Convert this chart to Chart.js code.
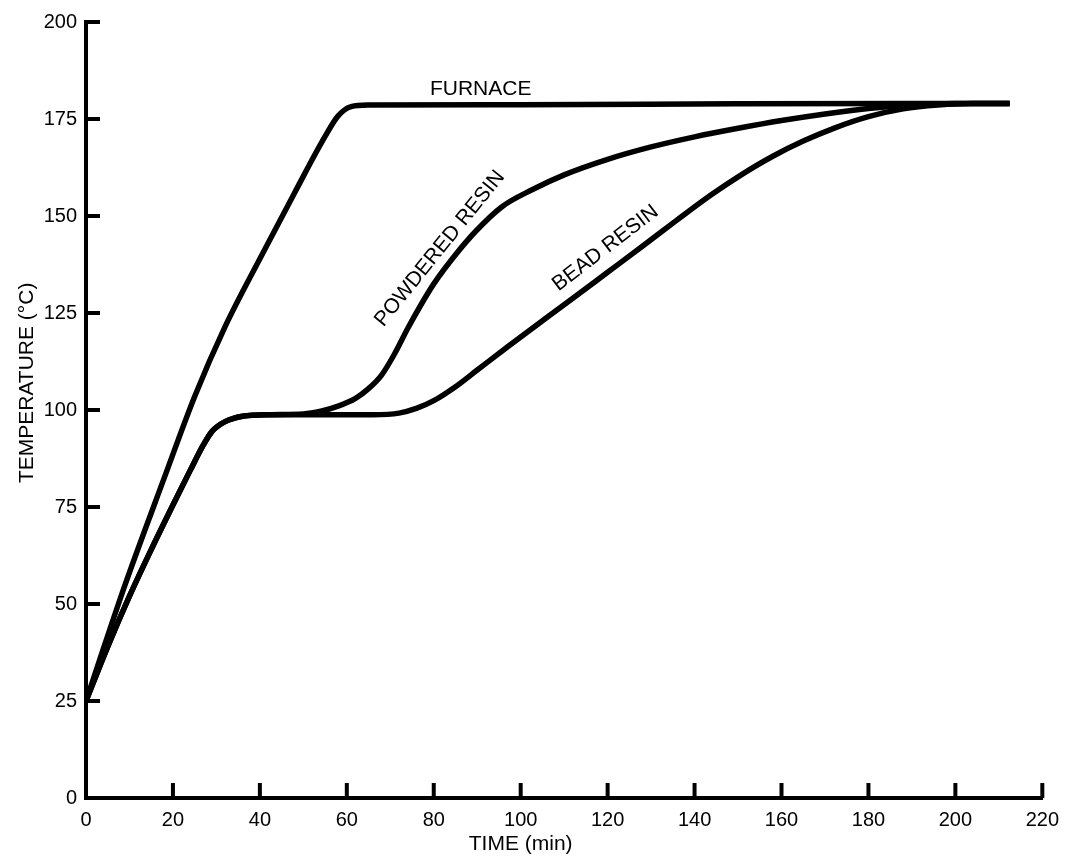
<!DOCTYPE html>
<html>
<head>
<meta charset="utf-8">
<title>Temperature vs time</title>
<script src="https://cdn.jsdelivr.net/npm/chart.js@4.4.1/dist/chart.umd.min.js"></script>
<style>
  html, body { margin: 0; padding: 0; background: #fff; }
  #wrap { width: 1069px; height: 856px; position: relative; }
</style>
</head>
<body>
<div id="wrap"><canvas id="chart"></canvas></div>
<script>
// ---- data (time in min, temperature in °C) ----
const furnaceTime = [0, 4, 9, 18, 25, 32, 40, 48, 55, 58, 61, 65, 100, 150, 212.5];
const furnaceTemp = [25, 38.5, 55, 82.5, 103.5, 121.5, 139, 156, 170.5, 175.8, 178.2, 178.6, 178.7, 178.9, 179];

const powderTime = [0, 5, 10, 15, 20, 24, 27, 29, 32, 36, 42, 50, 54, 58, 62, 65, 68, 71, 74, 77, 80, 85, 89.6, 95.7, 102.5, 110, 120, 130, 140, 150, 160, 170, 180, 190, 200, 212.5];
const powderTemp = [25, 39, 52, 64, 75.5, 84.5, 91, 94.5, 97, 98.4, 98.8, 99, 99.7, 101, 103, 105.5, 109, 114.5, 121, 127, 132.5, 140, 146, 152.4, 156.7, 160.6, 164.6, 167.8, 170.4, 172.6, 174.6, 176.3, 177.7, 178.6, 179, 179];

const beadTime = [0, 5, 10, 15, 20, 24, 27, 29, 32, 36, 42, 50, 60, 66, 72, 76, 80, 85, 90, 97, 105, 112, 120, 128, 136, 144, 151, 158, 165, 172, 180, 188, 196, 204, 212.5];
const beadTemp = [25, 39, 52, 64, 75.5, 84.5, 91, 94.5, 97, 98.4, 98.8, 98.8, 98.8, 98.8, 99.2, 100.4, 102.4, 106, 110.3, 116.3, 123, 128.8, 135.5, 142.2, 149, 155.6, 160.8, 165.4, 169.3, 172.6, 175.6, 177.6, 178.6, 179, 179];

const xTicks = [0, 20, 40, 60, 80, 100, 120, 140, 160, 180, 200, 220];
const yTicks = [0, 25, 50, 75, 100, 125, 150, 175, 200];

const FONT = 'Liberation Sans, Arial, Helvetica, sans-serif';

/** curve captions, anchored in data units */
const curveLabels = [
  { text: 'FURNACE', t: 90.8, temp: 182.8, angle: 0 },
  { text: 'POWDERED RESIN', t: 81.4, temp: 141.6, angle: -51 },
  { text: 'BEAD RESIN', t: 119.5, temp: 141.7, angle: -37.5 },
];

function toPoints(times, temps) {
  return times.map((t, i) => ({ x: t, y: temps[i] }));
}

function curve(times, temps) {
  return {
    data: toPoints(times, temps),
    borderColor: '#000',
    borderWidth: 5.5,
    pointRadius: 0,
    fill: false,
    cubicInterpolationMode: 'monotone',
    borderCapStyle: 'butt',
    borderJoinStyle: 'round',
  };
}

/** inward tick marks (the original has ticks on the inside of both axes) */
const innerTicks = {
  id: 'innerTicks',
  afterDraw(chart) {
    const { ctx, chartArea, scales } = chart;
    ctx.save();
    ctx.strokeStyle = '#000';
    ctx.lineWidth = 4;
    ctx.lineCap = 'butt';
    xTicks.forEach((v) => {
      if (v === 0) return;
      const px = scales.x.getPixelForValue(v);
      ctx.beginPath();
      ctx.moveTo(px, chartArea.bottom);
      ctx.lineTo(px, chartArea.bottom - 15);
      ctx.stroke();
    });
    yTicks.forEach((v) => {
      if (v === 0) return;
      const py = scales.y.getPixelForValue(v);
      ctx.beginPath();
      ctx.moveTo(chartArea.left, py);
      ctx.lineTo(chartArea.left + 14, py);
      ctx.stroke();
    });
    ctx.restore();
  },
};

/** curve captions + axis titles */
const captions = {
  id: 'captions',
  afterDraw(chart) {
    const { ctx, chartArea, scales } = chart;
    ctx.save();
    ctx.fillStyle = '#000';
    ctx.textAlign = 'center';
    ctx.textBaseline = 'middle';
    ctx.font = `21px ${FONT}`;

    curveLabels.forEach((l) => {
      ctx.save();
      ctx.translate(scales.x.getPixelForValue(l.t), scales.y.getPixelForValue(l.temp));
      ctx.rotate((l.angle * Math.PI) / 180);
      ctx.fillText(l.text, 0, 0);
      ctx.restore();
    });

    // axis titles, a bit off-centre like in the original
    ctx.fillText('TIME (min)', scales.x.getPixelForValue(100), chartArea.bottom + 46);
    ctx.save();
    ctx.translate(27, scales.y.getPixelForValue(107));
    ctx.rotate(-Math.PI / 2);
    ctx.fillText('TEMPERATURE (°C)', 0, 0);
    ctx.restore();

    ctx.restore();
  },
};

new Chart(document.getElementById('chart'), {
  type: 'line',
  data: {
    datasets: [
      curve(furnaceTime, furnaceTemp),
      curve(powderTime, powderTemp),
      curve(beadTime, beadTemp),
    ],
  },
  options: {
    responsive: true,
    maintainAspectRatio: false,
    animation: false,
    layout: { padding: { top: 22, right: 16, bottom: 0, left: 0 } },
    plugins: { legend: { display: false }, tooltip: { enabled: false } },
    scales: {
      x: {
        type: 'linear',
        min: 0,
        max: 220,
        afterBuildTicks: (scale) => { scale.ticks = xTicks.map((v) => ({ value: v })); },
        ticks: { color: '#000', font: { size: 20, family: FONT }, padding: 10, maxRotation: 0 },
        grid: { display: false, drawTicks: false },
        border: { display: true, color: '#000', width: 4 },
        afterFit: (scale) => { scale.height = 58; },
      },
      y: {
        type: 'linear',
        min: 0,
        max: 200,
        afterBuildTicks: (scale) => { scale.ticks = yTicks.map((v) => ({ value: v })); },
        ticks: { color: '#000', font: { size: 20, family: FONT }, padding: 9 },
        grid: { display: false, drawTicks: false },
        border: { display: true, color: '#000', width: 4 },
        afterFit: (scale) => { scale.width = 86; },
      },
    },
  },
  plugins: [innerTicks, captions],
});
</script>
</body>
</html>
